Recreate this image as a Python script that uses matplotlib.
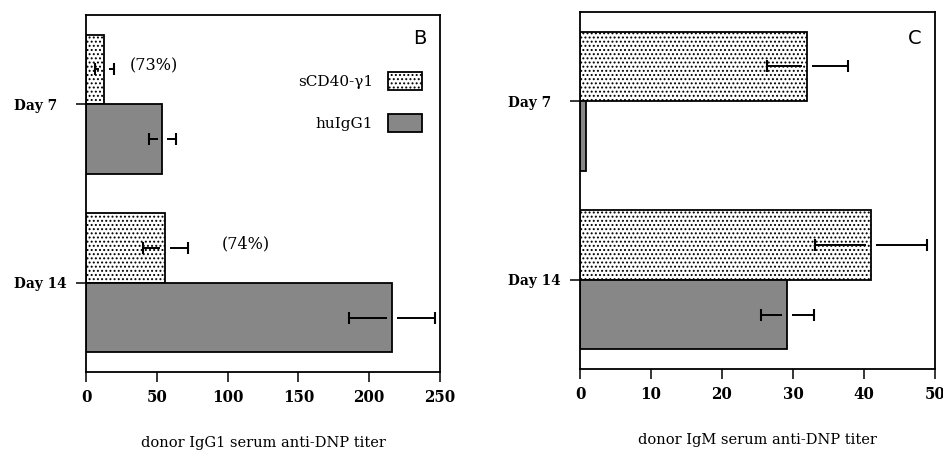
import matplotlib
matplotlib.use("Agg")
import matplotlib.pyplot as plt
from matplotlib.patches import Patch
import numpy as np

# ---- data ----
days = ["Day 7", "Day 14"]
series = ["sCD40-\u03b31", "huIgG1"]

igg1_scd40 = [13, 56]
igg1_scd40_err = [6.5, 16]
igg1_huigg1 = [54, 216]
igg1_huigg1_err = [9.5, 30.5]

igm_scd40 = [32, 41]
igm_scd40_err = [5.7, 7.9]
igm_huigg1 = [0.8, 29.2]
igm_huigg1_err = [0, 3.7]

pct_labels = ["(73%)", "(74%)"]
pct_x = [48, 113]

igg1_ticks = [0, 50, 100, 150, 200, 250]
igm_ticks = [0, 10, 20, 30, 40, 50]

xlabel_b = "donor IgG1 serum anti-DNP titer"
xlabel_c = "donor IgM serum anti-DNP titer"

# ---- style ----
SERIF = ["DejaVu Serif"]
GRAY = "#878787"
H = 0.39

plt.rcParams["hatch.linewidth"] = 0.9

fig = plt.figure(figsize=(9.43, 4.51), dpi=100)
axB = fig.add_axes([86 / 943, 1 - 372 / 451, (440 - 86) / 943, (372 - 15) / 451])
axC = fig.add_axes([580 / 943, 1 - 369 / 451, (935 - 580) / 943, (369 - 12) / 451])


def draw(ax, s_vals, s_err, h_vals, h_err, xmax, ticks, xlabel, letter, let_y):
    y = np.arange(len(days))
    ys = y - H / 2
    yh = y + H / 2
    ax.barh(ys, s_vals, height=H, color="white", edgecolor="black",
            hatch="....", linewidth=1.3)
    ax.barh(yh, h_vals, height=H, color=GRAY, edgecolor="black", linewidth=1.3)
    gap = 0.014 * xmax
    for yy, v, e in list(zip(ys, s_vals, s_err)) + list(zip(yh, h_vals, h_err)):
        if e <= 0:
            continue
        ax.hlines([yy, yy], [v - e, v + gap], [v - gap, v + e], color="black", lw=1.4)
        ax.plot([v - e, v + e], [yy, yy], ls="none", marker="|", ms=9,
                mew=1.5, color="black")
    ax.set_xlim(0, xmax)
    ax.set_ylim(1.5, -0.5)
    ax.set_xticks(ticks)
    ax.set_xticklabels([str(t) for t in ticks], family=SERIF, fontsize=12,
                       fontweight="bold", fontstretch="condensed")
    ax.set_yticks(y)
    ax.set_yticklabels(days, family=SERIF, fontsize=11, fontweight="bold",
                       fontstretch="condensed")
    for lbl in ax.get_yticklabels():
        lbl.set_horizontalalignment("left")
    ax.tick_params(axis="y", length=7.5, width=1.1, pad=44)
    ax.tick_params(axis="x", length=7.5, width=1.1, pad=5)
    for sp in ax.spines.values():
        sp.set_linewidth(1.3)
    ax.set_xlabel(xlabel, family=SERIF, fontsize=10.5, labelpad=21)
    ax.text(0.963, let_y, letter, transform=ax.transAxes, ha="right", va="top",
            fontsize=14, family=["DejaVu Sans"])
    return ys


ysB = draw(axB, igg1_scd40, igg1_scd40_err, igg1_huigg1, igg1_huigg1_err,
           250, igg1_ticks, xlabel_b, "B", 0.962)
draw(axC, igm_scd40, igm_scd40_err, igm_huigg1, igm_huigg1_err,
     50, igm_ticks, xlabel_c, "C", 0.953)

for txt, xx, yy in zip(pct_labels, pct_x, ysB):
    axB.text(xx, yy - 0.02, txt, family=SERIF, fontsize=11.5, ha="center", va="center")

handles = [Patch(facecolor="white", edgecolor="black", hatch="....", linewidth=1.3),
           Patch(facecolor=GRAY, edgecolor="black", linewidth=1.3)]
axB.legend(handles, series, loc="upper right", bbox_to_anchor=(0.949, 0.84),
           markerfirst=False, frameon=False, handlelength=2.2, handleheight=1.45,
           labelspacing=1.55, borderpad=0, borderaxespad=0, handletextpad=1.0,
           prop={"family": SERIF, "size": 11})

fig.savefig("out.png", dpi=100)
